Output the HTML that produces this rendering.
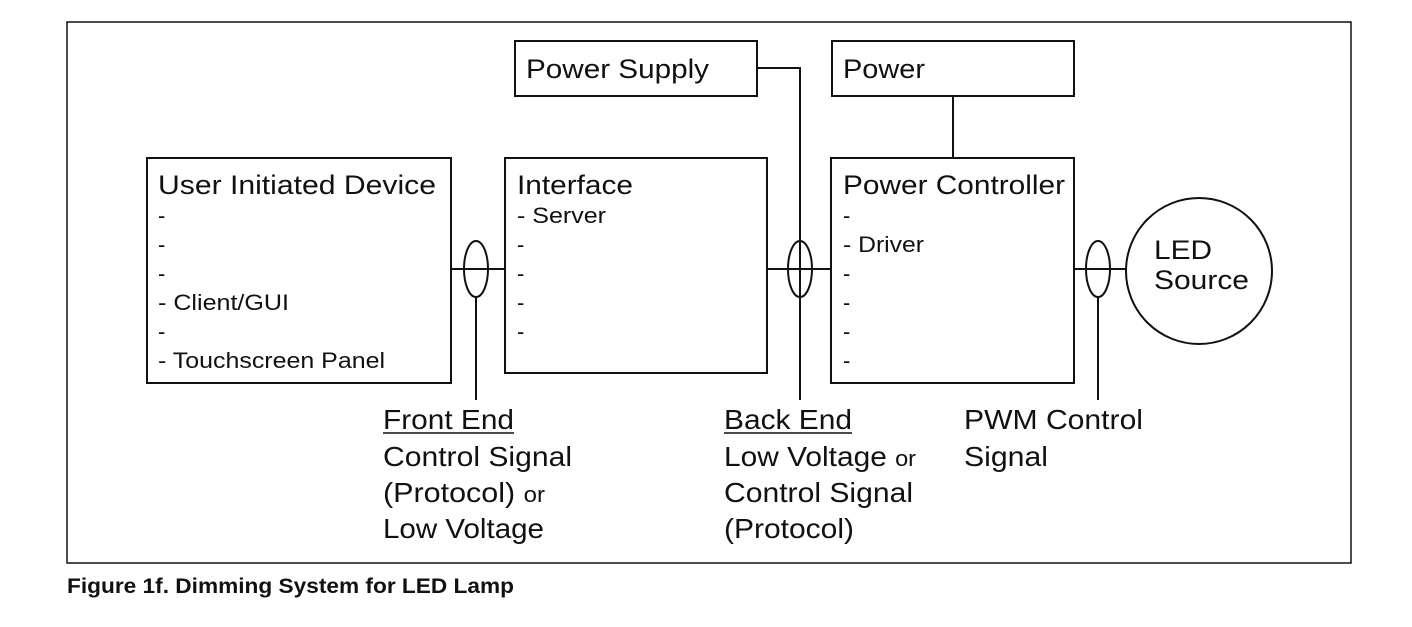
<!DOCTYPE html>
<html><head><style>
body{margin:0;background:#fff;}
svg text{font-family:"Liberation Sans",Arial,sans-serif;fill:#111;}
</style></head><body>
<svg width="1412" height="622" xmlns="http://www.w3.org/2000/svg">
<g fill="none" stroke="#111" stroke-width="2">
<rect x="67" y="22" width="1284" height="541" stroke-width="1.5"/>
<rect x="515" y="41" width="242" height="55"/>
<rect x="832" y="41" width="242" height="55"/>
<rect x="147" y="158" width="304" height="225"/>
<rect x="505" y="158" width="262" height="215"/>
<rect x="831" y="158" width="243" height="225"/>
<line x1="953" y1="96" x2="953" y2="158"/>
<circle cx="1199" cy="271" r="73"/>
<line x1="451" y1="269" x2="505" y2="269"/>
<line x1="767" y1="269" x2="831" y2="269"/>
<line x1="1074" y1="269" x2="1126" y2="269"/>
<ellipse cx="476" cy="269" rx="12" ry="28"/>
<ellipse cx="800" cy="269" rx="12" ry="28"/>
<ellipse cx="1098" cy="269" rx="12" ry="28"/>
<line x1="476" y1="297" x2="476" y2="400"/>
<polyline points="757,68 800,68 800,400"/>
<line x1="1098" y1="297" x2="1098" y2="400"/>
</g>
<g font-size="27" lengthAdjust="spacingAndGlyphs">
<text x="526" y="78" textLength="183" lengthAdjust="spacingAndGlyphs">Power Supply</text>
<text x="843" y="78" textLength="82" lengthAdjust="spacingAndGlyphs">Power</text>
<text x="158" y="194" textLength="278" lengthAdjust="spacingAndGlyphs">User Initiated Device</text>
<text x="517" y="194" textLength="116" lengthAdjust="spacingAndGlyphs">Interface</text>
<text x="843" y="194" textLength="222" lengthAdjust="spacingAndGlyphs">Power Controller</text>
<text x="1154" y="259" textLength="58" lengthAdjust="spacingAndGlyphs">LED</text>
<text x="1154" y="289" textLength="95" lengthAdjust="spacingAndGlyphs">Source</text>
</g>
<g font-size="22">
<text x="158" y="223">-</text><text x="158" y="252">-</text><text x="158" y="281">-</text>
<text x="158" y="310" textLength="131" lengthAdjust="spacingAndGlyphs">- Client/GUI</text><text x="158" y="339">-</text><text x="158" y="368" textLength="227" lengthAdjust="spacingAndGlyphs">- Touchscreen Panel</text>
<text x="517" y="223" textLength="89" lengthAdjust="spacingAndGlyphs">- Server</text><text x="517" y="252">-</text><text x="517" y="281">-</text><text x="517" y="310">-</text><text x="517" y="339">-</text>
<text x="843" y="223">-</text><text x="843" y="252" textLength="81" lengthAdjust="spacingAndGlyphs">- Driver</text><text x="843" y="281">-</text><text x="843" y="310">-</text><text x="843" y="339">-</text><text x="843" y="368">-</text>
</g>
<g font-size="28">
<text x="383" y="429" textLength="131" lengthAdjust="spacingAndGlyphs">Front End</text>
<text x="383" y="466" textLength="189" lengthAdjust="spacingAndGlyphs">Control Signal</text>
<text x="383" y="502" textLength="162" lengthAdjust="spacingAndGlyphs">(Protocol) <tspan font-size="22">or</tspan></text>
<text x="383" y="538" textLength="161" lengthAdjust="spacingAndGlyphs">Low Voltage</text>
<text x="724" y="429" textLength="128" lengthAdjust="spacingAndGlyphs">Back End</text>
<text x="724" y="466" textLength="192" lengthAdjust="spacingAndGlyphs">Low Voltage <tspan font-size="22">or</tspan></text>
<text x="724" y="502" textLength="189" lengthAdjust="spacingAndGlyphs">Control Signal</text>
<text x="724" y="538" textLength="130" lengthAdjust="spacingAndGlyphs">(Protocol)</text>
<text x="964" y="429" textLength="179" lengthAdjust="spacingAndGlyphs">PWM Control</text>
<text x="964" y="466" textLength="84" lengthAdjust="spacingAndGlyphs">Signal</text>
</g>
<line x1="383" y1="433" x2="514" y2="433" stroke="#111" stroke-width="1.5"/>
<line x1="724" y1="433" x2="852" y2="433" stroke="#111" stroke-width="1.5"/>
<text x="67" y="593" font-size="21" font-weight="bold" textLength="447" lengthAdjust="spacingAndGlyphs">Figure 1f. Dimming System for LED Lamp</text>
</svg>
</body></html>
